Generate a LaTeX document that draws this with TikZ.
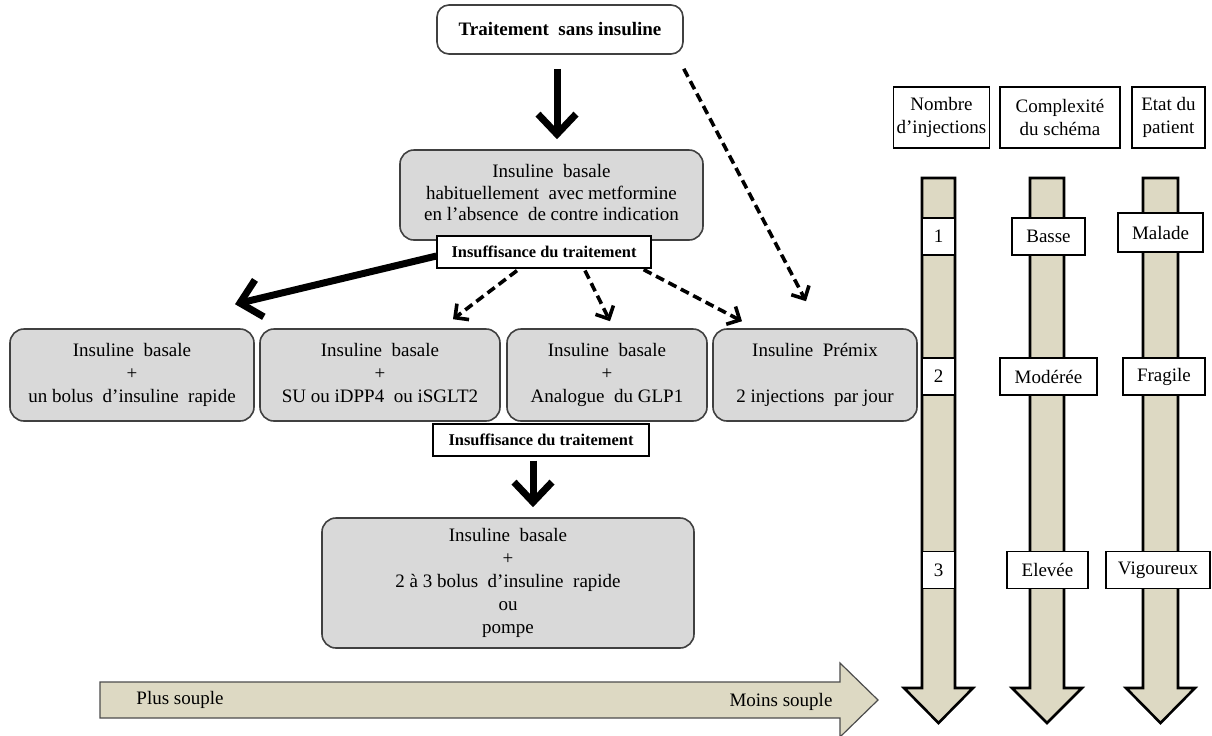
\documentclass[tikz,border=0pt]{standalone}
\usepackage{fontspec}
\setmainfont{Liberation Serif}
\usetikzlibrary{arrows.meta}
\definecolor{boxgray}{HTML}{D9D9D9}
\definecolor{tan}{HTML}{DDD9C3}
\definecolor{edgegray}{HTML}{404040}
\tikzset{
  txt/.style={font=\fontsize{9.5}{11.5}\selectfont, align=center},
  gbox/.style={txt, draw=edgegray, line width=0.8pt, fill=boxgray, rounded corners=7pt, inner sep=0pt},
  wbox/.style={txt, draw=edgegray, line width=0.8pt, fill=white, rounded corners=6pt, inner sep=0pt},
  insbox/.style={draw=black, line width=0.6pt, fill=white, inner sep=0pt, font=\fontsize{8.2}{10}\selectfont\bfseries},
  lab/.style={txt, draw=black, line width=0.6pt, fill=white, inner sep=0pt, minimum height=18.5pt},
  bigarrow/.style={line width=3.5pt, -{Straight Barb[length=10pt,width=19pt]}},
  dasharrow/.style={line width=1.8pt, dash pattern=on 4.5pt off 2.5pt, -{Straight Barb[length=5pt,width=10pt]}},
  tanshape/.style={fill=tan, draw=black, line width=1.3pt, line join=miter},
  tanh/.style={fill=tan, draw=gray!60!black, line width=0.6pt},
}
\begin{document}
\begin{tikzpicture}[x=0.5pt,y=-0.5pt]
\useasboundingbox (0,0) rectangle (1212,735);

% main flow boxes
\node[wbox, minimum width=123pt, minimum height=24.5pt, font=\fontsize{9.5}{11.5}\selectfont\bfseries] (T) at (560,29.5) {Traitement\ \ sans insuline};
\node[gbox, minimum width=151.5pt, minimum height=45pt, font=\fontsize{9.5}{10.75}\selectfont] (M) at (551.5,195) {\strut Insuline\ \ basale\\habituellement\ \ avec metformine\\en l'absence\ \ de contre indication\strut};
\node[insbox, minimum width=107pt, minimum height=16pt] (I1) at (544,252) {Insuffisance du traitement};

\node[gbox, minimum width=122pt, minimum height=46pt] (A) at (132,375) {\strut Insuline\ \ basale\\+\\un bolus\ \ d'insuline\ \ rapide\strut};
\node[gbox, minimum width=120pt, minimum height=46pt] (B) at (380,375) {\strut Insuline\ \ basale\\+\\SU ou iDPP4\ \ ou iSGLT2\strut};
\node[gbox, minimum width=100pt, minimum height=46pt] (C) at (607,375) {\strut Insuline\ \ basale\\+\\Analogue\ \ du GLP1\strut};
\node[gbox, minimum width=102pt, minimum height=46pt] (D) at (815,375) {\strut Insuline\ \ Prémix\\[11.5pt]2 injections\ \ par jour\strut};

\node[insbox, minimum width=108pt, minimum height=16pt] (I2) at (541,440) {Insuffisance du traitement};
\node[gbox, minimum width=186pt, minimum height=65pt] (Bt) at (508,583) {\strut Insuline\ \ basale\\+\\2 à 3 bolus\ \ d'insuline\ \ rapide\\ou\\pompe\strut};

% connectors
\draw[bigarrow] ([xshift=-1.5pt,yshift=-7pt]T.south) -- ([xshift=2.75pt,yshift=5pt]M.north);
\draw[dasharrow] ([yshift=-7pt]T.south east) -- ([xshift=-4.5pt,yshift=13.5pt]D.north);
\draw[bigarrow] ([yshift=-2pt]I1.west) -- ([xshift=51.5pt,yshift=12pt]A.north);
\draw[dasharrow] ([xshift=-13.5pt,yshift=-1pt]I1.south) -- ([xshift=36.5pt,yshift=4.5pt]B.north);
\draw[dasharrow] ([xshift=20.5pt,yshift=-1pt]I1.south) -- ([xshift=1.5pt,yshift=3.5pt]C.north);
\draw[dasharrow] ([xshift=-4pt,yshift=-0.5pt]I1.south east) -- ([xshift=-36.5pt,yshift=3.5pt]D.north);
\draw[bigarrow] ([xshift=-4pt,yshift=-2pt]I2.south) -- ([xshift=12.5pt,yshift=5pt]Bt.north);

% horizontal souplesse arrow
\draw[tanh] (100,682) -- (840,682) -- (840,663) -- (878,700) -- (840,737) -- (840,718) -- (100,718) -- cycle;
\node[txt] (plus) at (180,700) {Plus souple};
\node[txt] (moins) at (781,702) {Moins souple};

% vertical arrows
\draw[tanshape] (922,178) -- (955,178) -- (955,688) -- (973,688) -- (938.5,723) -- (904,688) -- (922,688) -- cycle;
\draw[tanshape] (1030,178) -- (1064,178) -- (1064,688) -- (1082,688) -- (1047,723) -- (1012,688) -- (1030,688) -- cycle;
\draw[tanshape] (1143,178) -- (1178,178) -- (1178,688) -- (1195,688) -- (1160.5,723) -- (1126,688) -- (1143,688) -- cycle;

% headers
\node[lab, minimum width=48pt, minimum height=30.5pt] (h1) at (941.5,117.5) {Nombre\\d'injections};
\node[lab, minimum width=60pt, minimum height=30.5pt] (h2) at (1060,117.5) {Complexité\\du schéma};
\node[lab, minimum width=36.5pt, minimum height=30.5pt] (h3) at (1168.5,117.5) {Etat du\\patient};

% scale labels
\node[lab, minimum width=16.5pt] (n1) at (938.5,236.5) {1};
\node[lab, minimum width=16.5pt] (n2) at (938.5,376.5) {2};
\node[lab, minimum width=16.5pt] (n3) at (938.5,570) {3};
\node[lab, minimum width=36.5pt] (c1) at (1048.5,236.5) {Basse};
\node[lab, minimum width=48.5pt] (c2) at (1048.5,376.5) {Modérée};
\node[lab, minimum width=40.5pt] (c3) at (1047.5,570) {Elevée};
\node[lab, minimum width=42.5pt, minimum height=19.5pt] (e1) at (1160.5,232.5) {Malade};
\node[lab, minimum width=41pt] (e2) at (1164,376.5) {Fragile};
\node[lab, minimum width=52pt] (e3) at (1158,570) {Vigoureux};
\end{tikzpicture}
\end{document}
